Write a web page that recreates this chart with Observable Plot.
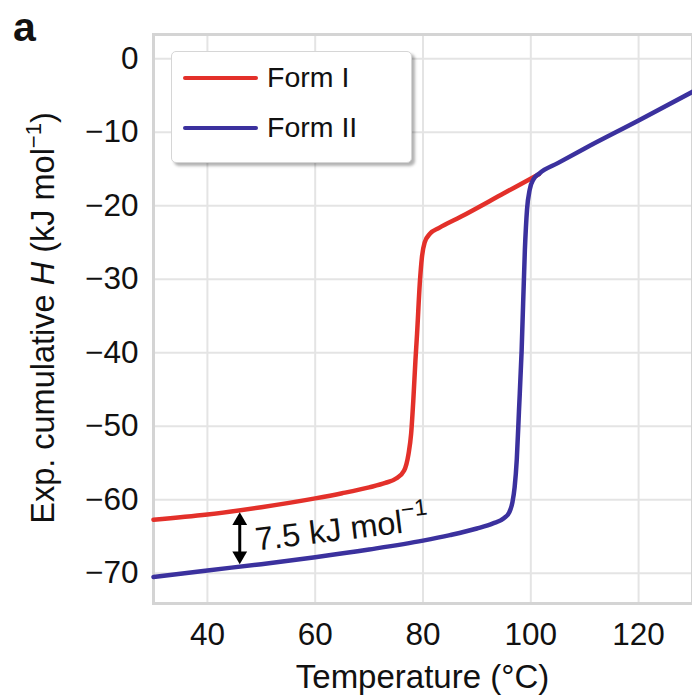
<!DOCTYPE html>
<html><head><meta charset="utf-8">
<script src="https://cdn.jsdelivr.net/npm/d3@7"></script>
<script src="https://cdn.jsdelivr.net/npm/@observablehq/plot@0.6"></script>
<style>
body{margin:0;background:#fff;font-family:"Liberation Sans",Arial,sans-serif;}
#wrap{position:relative;width:692px;height:695px;}
#legend{position:absolute;left:171px;top:51px;width:241px;height:112px;background:#fff;border:1px solid #d6d6d6;border-radius:5px;box-shadow:3px 3px 3px rgba(0,0,0,0.3);box-sizing:border-box;}
#legend .sw{position:absolute;left:11px;width:75px;height:4.5px;border-radius:3px;}
#legend .lb{position:absolute;left:95px;font-size:28.5px;line-height:28px;color:#111;white-space:nowrap;}
</style></head><body>
<div id="wrap"></div>
<script>
// Temperature (°C) and cumulative enthalpy (kJ/mol)
const formI_T = [30, 40, 50, 60, 65, 70, 73, 75, 76.5, 77.3, 77.8, 78.2, 78.6, 78.9, 79.4, 79.8, 80.3, 81.3, 83, 87, 95, 101.5];
const formI_H = [-62.7, -62.0, -61.0, -59.8, -59.1, -58.3, -57.7, -57.1, -56.0, -53.8, -51.0, -46.5, -41.0, -37.4, -30.6, -27.0, -25.0, -23.8, -23.0, -21.5, -18.3, -15.7];
const formII_T = [30, 40, 50, 60, 70, 80, 85, 90, 93, 95, 96, 96.6, 97, 97.4, 97.8, 98.3, 98.9, 99.3, 99.8, 100.5, 101.6, 105, 110, 120, 130];
const formII_H = [-70.5, -69.6, -68.75, -67.8, -66.75, -65.55, -64.8, -63.9, -63.2, -62.5, -61.7, -60.3, -58.3, -54.5, -48.0, -39.7, -26.0, -20.5, -17.8, -16.4, -15.6, -14.2, -12.2, -8.4, -4.5];
const seriesNames = ["Form I", "Form II"];
const seriesColors = ["#e3302a", "#3b319e"];
const xTicks = [40, 60, 80, 100, 120];
const yTicks = [0, -10, -20, -30, -40, -50, -60, -70];
// gap annotation
const gapT = [46];
const gapTop = [-62.4];
const gapBottom = [-68.1];
const headH = [-62.85, -67.6];
const headRot = [0, 180];
const gapLabel = ["7.5 kJ mol"];
const gapLabelT = [48.9];
const gapLabelH = [-65.5];

const formI = formI_T.map((t, i) => ({T: t, H: formI_H[i]}));
const formII = formII_T.map((t, i) => ({T: t, H: formII_H[i]}));
const gap = gapT.map((t, i) => ({T: t, y1: gapTop[i], y2: gapBottom[i]}));
const heads = headH.map((h, i) => ({T: gapT[0], H: h, r: headRot[i]}));
const labels = gapLabel.map((s, i) => ({T: gapLabelT[i], H: gapLabelH[i], s}));

const font = '"Liberation Sans", Arial, sans-serif';
const chart = Plot.plot({
  width: 692, height: 695,
  marginLeft: 153, marginRight: 0, marginTop: 34, marginBottom: 92,
  style: {fontFamily: font, fontSize: "31px", background: "white", color: "#111", overflow: "visible"},
  x: {domain: [30, 130]},
  y: {domain: [-74.1, 3.3]},
  marks: [
    Plot.gridX(xTicks, {stroke: "#e4e4e4", strokeOpacity: 1, strokeWidth: 2}),
    Plot.gridY(yTicks, {stroke: "#e4e4e4", strokeOpacity: 1, strokeWidth: 2}),
    Plot.frame({stroke: "#d4d4d4", strokeWidth: 3}),
    Plot.axisX(xTicks, {tickSize: 0, tickPadding: 19, label: null, fontSize: 31.5, tickFormat: d3.format("d")}),
    Plot.axisY(yTicks, {tickSize: 0, tickPadding: 15, label: null, fontSize: 31.5, tickFormat: d3.format("d")}),
    Plot.line(formI, {x: "T", y: "H", stroke: seriesColors[0], strokeWidth: 4.5, curve: "monotone-x"}),
    Plot.line(formII, {x: "T", y: "H", stroke: seriesColors[1], strokeWidth: 4.5, curve: "monotone-x"}),
    Plot.link(gap, {x1: "T", x2: "T", y1: "y1", y2: "y2", stroke: "#000", strokeWidth: 3}),
    Plot.dot(heads, {x: "T", y: "H", symbol: "triangle", r: 5.5, fill: "#000", stroke: null, rotate: "r"}),
    Plot.text(labels, {x: "T", y: "H", text: "s", textAnchor: "start", lineAnchor: "middle", rotate: -7, fontSize: 32.5, fill: "#111"})
  ]
});

const svg = d3.select(chart);
svg.selectAll("text").filter(function() { return this.textContent === gapLabel[0]; })
  .append("tspan").attr("dy", -15).attr("font-size", 23).text("\u22121");

svg.append("text").attr("x", 13).attr("y", 41).attr("text-anchor", "start").attr("font-size", 41).attr("font-weight", "bold")
  .attr("fill", "#111").attr("font-family", font).text("a");

svg.append("text").attr("x", 422.5).attr("y", 688).attr("text-anchor", "middle").attr("font-size", 33)
  .attr("fill", "#111").attr("font-family", font).text("Temperature (°C)");

const yl = svg.append("text").attr("transform", "translate(54,318) rotate(-90)")
  .attr("text-anchor", "middle").attr("font-size", 32.5).attr("fill", "#111").attr("font-family", font);
yl.append("tspan").text("Exp. cumulative ");
yl.append("tspan").attr("font-style", "italic").text("H");
yl.append("tspan").text(" (kJ mol");
yl.append("tspan").attr("dy", -13).attr("font-size", 22).text("\u22121");
yl.append("tspan").attr("dy", 13).text(")");

const wrap = document.getElementById("wrap");
wrap.appendChild(chart);

const lg = document.createElement("div");
lg.id = "legend";
const swTops = [23.5, 73.5];
const lbTops = [11, 61];
seriesNames.forEach((n, i) => {
  const sw = document.createElement("div");
  sw.className = "sw"; sw.style.top = swTops[i] + "px"; sw.style.background = seriesColors[i];
  const lb = document.createElement("div");
  lb.className = "lb"; lb.style.top = lbTops[i] + "px"; lb.textContent = n;
  lg.appendChild(sw); lg.appendChild(lb);
});
wrap.appendChild(lg);
</script>
</body></html>
